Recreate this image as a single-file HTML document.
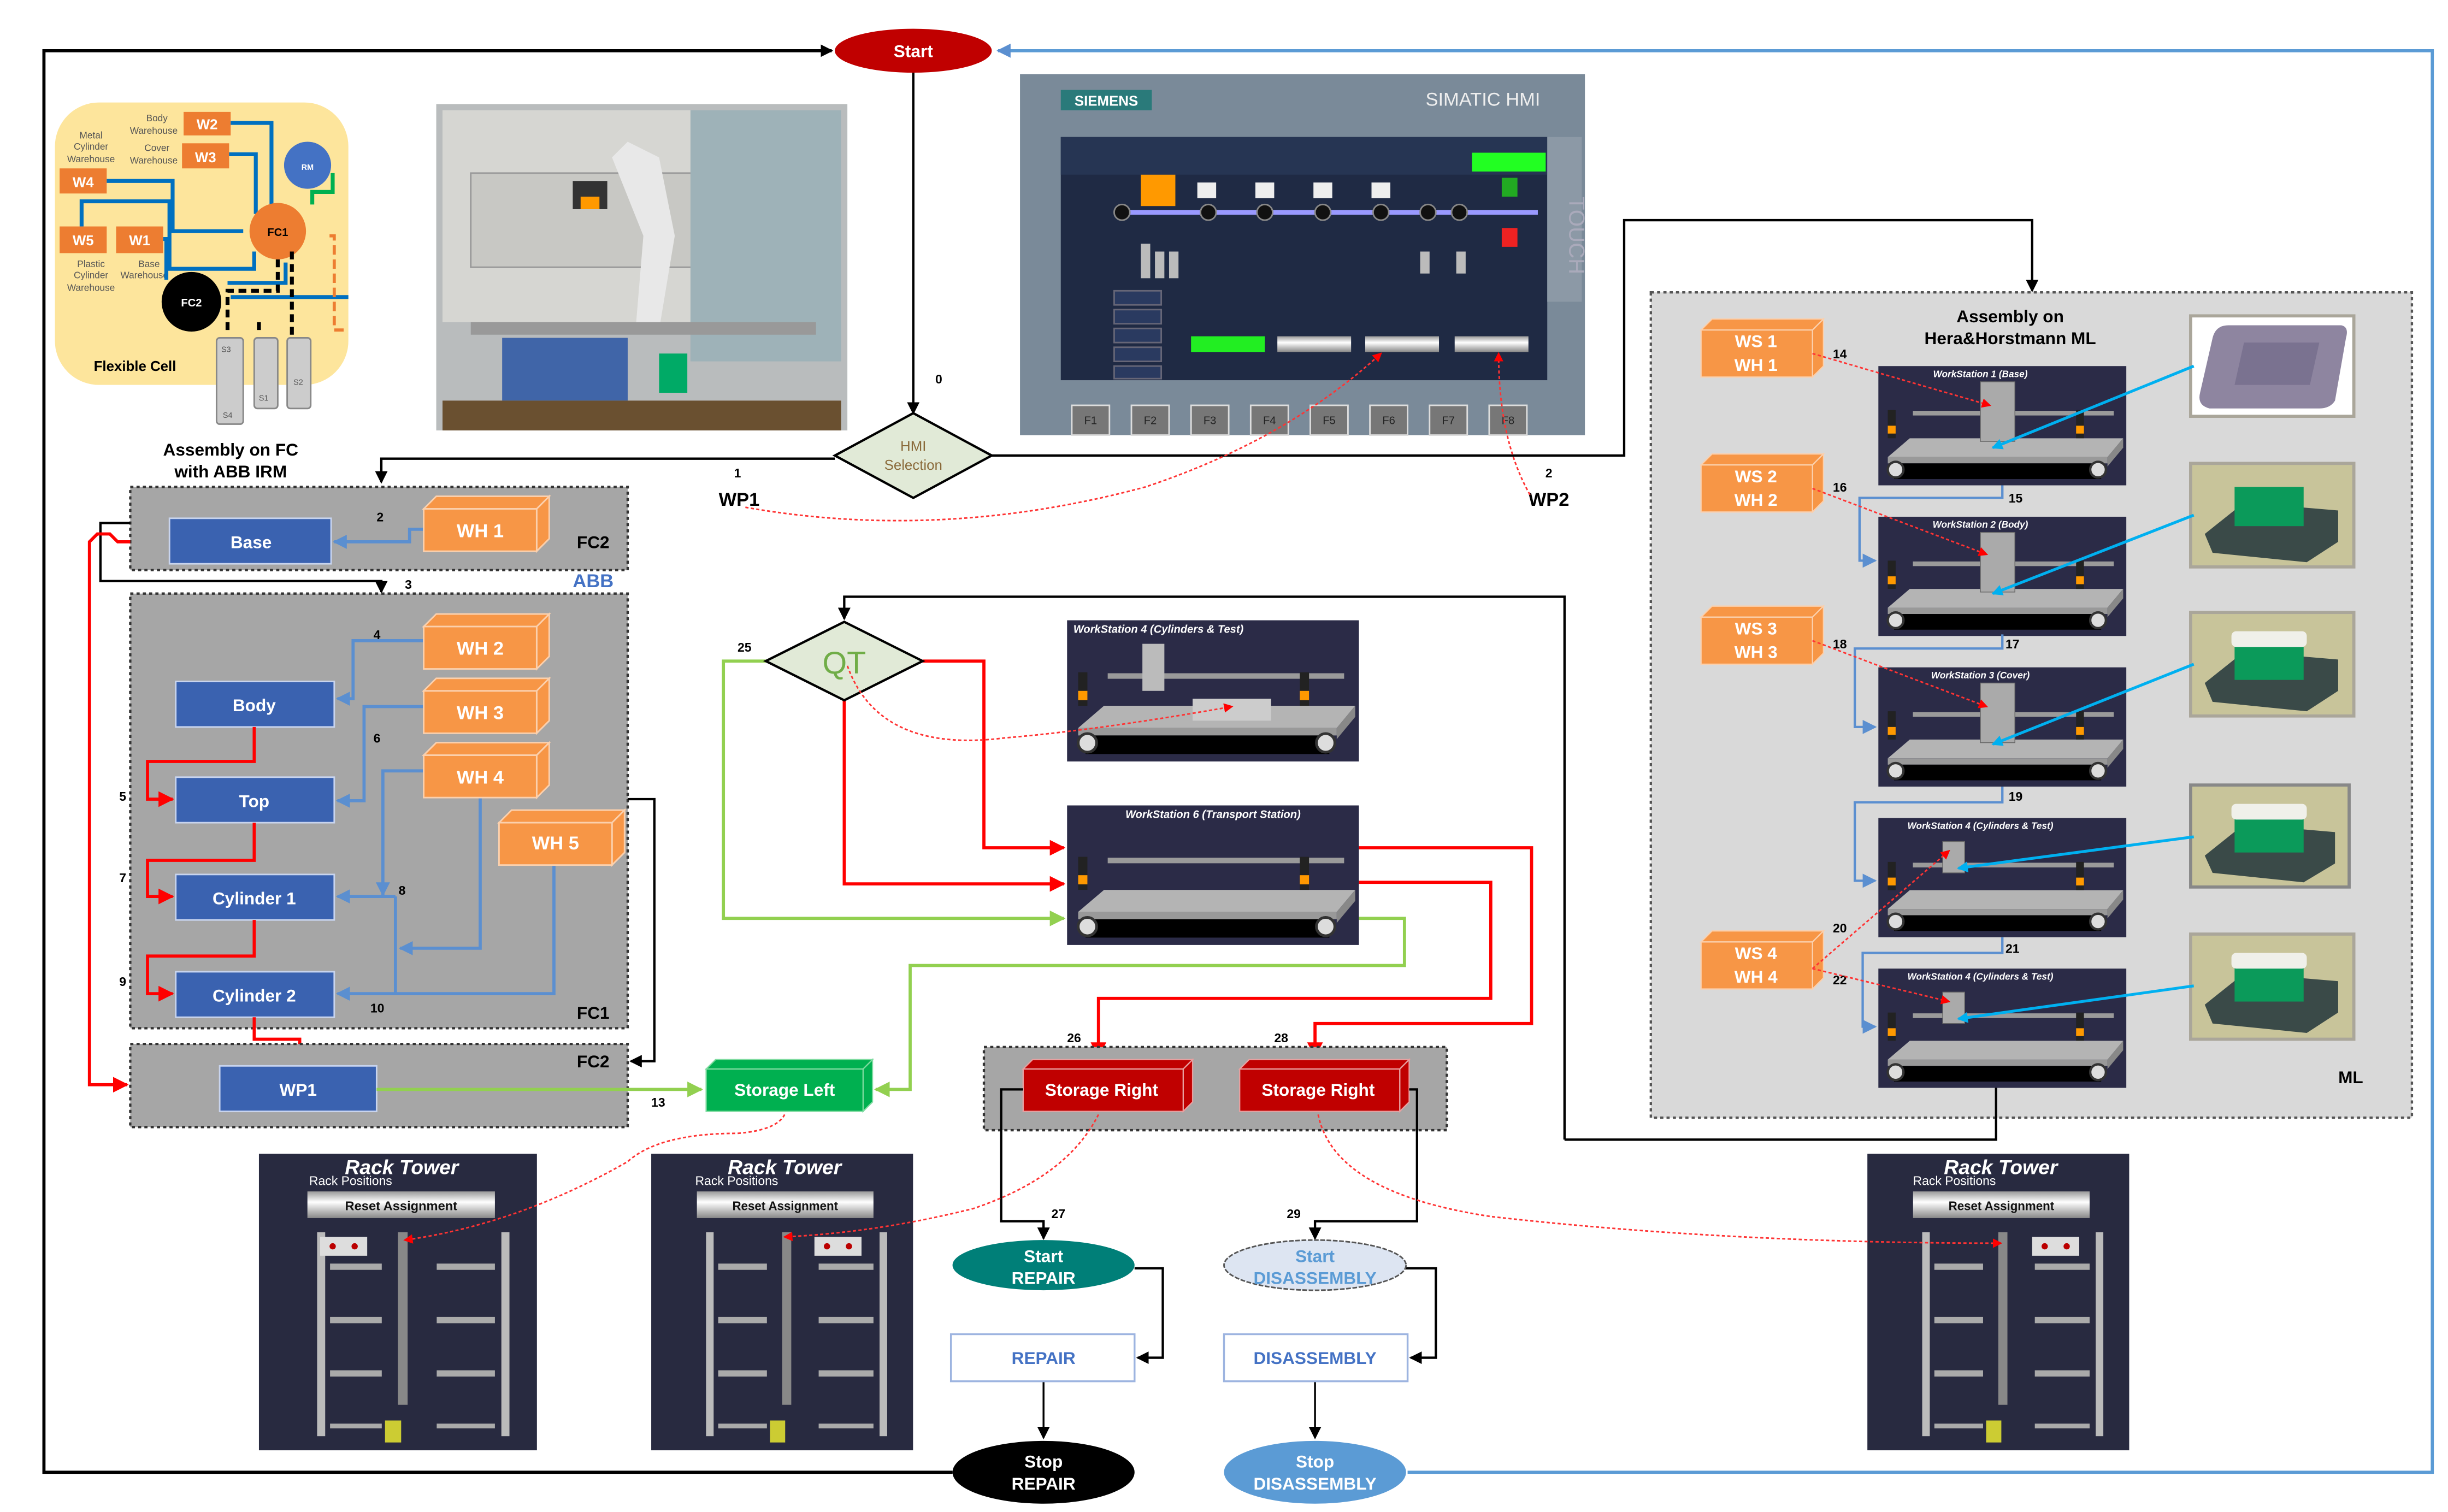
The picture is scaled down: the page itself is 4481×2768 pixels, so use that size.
<!DOCTYPE html>
<html><head><meta charset="utf-8">
<style>
html,body{margin:0;padding:0;background:#fff;}
svg{display:block;}
text{font-family:"Liberation Sans",sans-serif;}
</style></head>
<body>
<svg width="4481" height="2768" viewBox="0 0 1560 963" xmlns="http://www.w3.org/2000/svg">
<defs>
<marker id="ak" markerWidth="8" markerHeight="8" refX="7" refY="4" orient="auto" markerUnits="userSpaceOnUse"><path d="M0,0 L8,4 L0,8 z" fill="#000"/></marker>
<marker id="ar" markerWidth="10" markerHeight="10" refX="9" refY="5" orient="auto" markerUnits="userSpaceOnUse"><path d="M0,0 L10,5 L0,10 z" fill="#ff0000"/></marker>
<marker id="ab" markerWidth="9" markerHeight="9" refX="8" refY="4.5" orient="auto" markerUnits="userSpaceOnUse"><path d="M0,0 L9,4.5 L0,9 z" fill="#5b8fd0"/></marker>
<marker id="ag" markerWidth="10" markerHeight="10" refX="9" refY="5" orient="auto" markerUnits="userSpaceOnUse"><path d="M0,0 L10,5 L0,10 z" fill="#92d050"/></marker>
<marker id="arr" markerWidth="6" markerHeight="6" refX="5" refY="3" orient="auto" markerUnits="userSpaceOnUse"><path d="M0,0 L6,3 L0,6 z" fill="#ff0000"/></marker>
<marker id="ac" markerWidth="7" markerHeight="7" refX="6" refY="3.5" orient="auto" markerUnits="userSpaceOnUse"><path d="M0,0 L7,3.5 L0,7 z" fill="#00b0f0"/></marker>
<linearGradient id="btn" x1="0" y1="0" x2="0" y2="1"><stop offset="0" stop-color="#999"/><stop offset="0.4" stop-color="#fff"/><stop offset="1" stop-color="#888"/></linearGradient>
<g id="ws">
<rect x="0" y="0" width="158" height="76" fill="#2b2b47"/>
<line x1="22" y1="30" x2="150" y2="30" stroke="#9a9a9a" stroke-width="3"/>
<polygon points="6,58 146,58 156,46 20,46" fill="#b4b4b4"/>
<polygon points="146,58 156,46 156,52 146,64" fill="#888"/>
<rect x="6" y="58" width="140" height="4" fill="#999"/>
<rect x="10" y="62" width="132" height="10" fill="#000"/>
<circle cx="11" cy="66" r="5" fill="#ddd" stroke="#333" stroke-width="1.5"/>
<circle cx="140" cy="66" r="5" fill="#ddd" stroke="#333" stroke-width="1.5"/>
<rect x="6" y="28" width="5" height="18" fill="#222"/><rect x="6" y="38" width="5" height="5" fill="#f90"/>
<rect x="126" y="28" width="5" height="18" fill="#222"/><rect x="126" y="38" width="5" height="5" fill="#f90"/>
</g>
<g id="rack">
<rect x="0" y="0" width="172" height="189" fill="#282a40"/>
<rect x="30" y="24" width="116" height="17" fill="url(#btn)"/>
<text x="88" y="36" font-size="8" text-anchor="middle" fill="#111" font-weight="bold">Reset Assignment</text>
<rect x="36" y="50" width="5" height="130" fill="#bbb"/><rect x="150" y="50" width="5" height="130" fill="#bbb"/>
<rect x="86" y="50" width="6" height="110" fill="#888"/>
<g fill="#aaa"><rect x="44" y="70" width="32" height="4"/><rect x="44" y="104" width="32" height="4"/><rect x="44" y="138" width="32" height="4"/><rect x="44" y="172" width="32" height="3"/>
<rect x="110" y="70" width="36" height="4"/><rect x="110" y="104" width="36" height="4"/><rect x="110" y="138" width="36" height="4"/><rect x="110" y="172" width="36" height="3"/></g>
<rect x="78" y="170" width="10" height="14" fill="#cc3"/>
</g>
</defs>

<!-- outer black loop -->
<polyline points="607,938 28,938 28,32 530,32" fill="none" stroke="#000" stroke-width="2" marker-end="url(#ak)"/>
<!-- outer blue loop -->
<polyline points="897,938 1550,938 1550,32 636,32" fill="none" stroke="#5b9bd5" stroke-width="2" marker-end="url(#ab)"/>

<!-- Start -->
<ellipse cx="582" cy="32" rx="50" ry="14" fill="#c00000"/>
<text x="582" y="36" font-size="11" font-weight="bold" fill="#fff" text-anchor="middle">Start</text>
<line x1="582" y1="46" x2="582" y2="263" stroke="#000" stroke-width="1.5" marker-end="url(#ak)"/>
<text x="596" y="244" font-size="8" font-weight="bold">0</text>

<!-- Flexible cell -->
<rect x="35" y="65" width="187" height="180" rx="28" fill="#fde59c"/>
<g font-size="6" fill="#555" text-anchor="middle">
<text x="100" y="77">Body</text><text x="98" y="85">Warehouse</text>
<text x="58" y="88">Metal</text><text x="58" y="95">Cylinder</text><text x="58" y="103">Warehouse</text>
<text x="100" y="96">Cover</text><text x="98" y="104">Warehouse</text>
<text x="58" y="170">Plastic</text><text x="58" y="177">Cylinder</text><text x="58" y="185">Warehouse</text>
<text x="95" y="170">Base</text><text x="92" y="177">Warehouse</text></g>
<g fill="#ed7d31"><rect x="117" y="71" width="30" height="15"/><rect x="116" y="91" width="30" height="16"/><rect x="38" y="107" width="30" height="16"/><rect x="38" y="144" width="30" height="17"/><rect x="74" y="144" width="30" height="17"/></g>
<g font-size="9" font-weight="bold" fill="#fff" text-anchor="middle"><text x="132" y="82">W2</text><text x="131" y="103">W3</text><text x="53" y="119">W4</text><text x="53" y="156">W5</text><text x="89" y="156">W1</text></g>
<g fill="none" stroke="#0070c0" stroke-width="2.5">
<polyline points="147,78 173,78 173,133"/><polyline points="146,98 163,98 163,136"/><polyline points="68,115 110,115 110,147 155,147"/>
<polyline points="52,144 52,128 108,128 108,171 162,171 162,160"/><polyline points="104,152 106,152 106,178"/>
<polyline points="182,167 182,180 145,180"/><polyline points="147,189 222,189"/></g>
<circle cx="196" cy="105" r="15" fill="#4472c4"/><text x="196" y="108" font-size="5" fill="#fff" text-anchor="middle" font-weight="bold">RM</text>
<polyline points="212,110 212,122 199,122 199,130" fill="none" stroke="#00b050" stroke-width="2.5"/>
<circle cx="177" cy="147" r="18" fill="#ed7d31"/><text x="177" y="150" font-size="7" font-weight="bold" text-anchor="middle">FC1</text>
<circle cx="122" cy="192" r="19" fill="#000"/><text x="122" y="195" font-size="7" font-weight="bold" fill="#fff" text-anchor="middle">FC2</text>
<g fill="none" stroke="#000" stroke-width="2.5" stroke-dasharray="5,3"><polyline points="177,165 177,185 145,185 145,210"/><polyline points="186,160 186,215"/><polyline points="165,205 165,212"/></g>
<polyline points="210,150 213,150 213,210 220,210" fill="none" stroke="#ed7d31" stroke-width="2" stroke-dasharray="6,3"/>
<g fill="#ccc" stroke="#888" stroke-width="1"><rect x="138" y="215" width="17" height="55" rx="2"/><rect x="162" y="215" width="15" height="45" rx="2"/><rect x="183" y="215" width="15" height="45" rx="2"/></g>
<g font-size="5" fill="#555"><text x="141" y="224">S3</text><text x="142" y="266">S4</text><text x="165" y="255">S1</text><text x="187" y="245">S2</text></g>
<text x="86" y="236" font-size="9" font-weight="bold" text-anchor="middle">Flexible Cell</text>
<text x="147" y="290" font-size="11" font-weight="bold" text-anchor="middle">Assembly on FC</text>
<text x="147" y="304" font-size="11" font-weight="bold" text-anchor="middle">with ABB IRM</text>

<!-- Photo -->
<rect x="278" y="66" width="262" height="208" fill="#b9bcbd"/>
<rect x="282" y="70" width="254" height="135" fill="#d6d6d2"/>
<rect x="300" y="110" width="220" height="60" fill="#c8c8c4" stroke="#999"/>
<rect x="440" y="70" width="96" height="160" fill="#9eb2b8"/>
<path d="M390,100 L400,90 L420,100 L430,150 L420,210 L405,210 L410,150 Z" fill="#e8e8e8"/>
<rect x="365" y="115" width="22" height="18" fill="#333"/>
<rect x="370" y="125" width="12" height="8" fill="#f90"/>
<rect x="300" y="205" width="220" height="8" fill="#999"/>
<rect x="320" y="215" width="80" height="40" fill="#4065a8"/>
<rect x="420" y="225" width="18" height="25" fill="#0a6"/>
<rect x="282" y="255" width="254" height="19" fill="#6a5030"/>

<!-- HMI -->
<rect x="650" y="47" width="360" height="230" fill="#7a8a99"/>
<rect x="676" y="57" width="58" height="13" fill="#2a7a7a"/>
<text x="705" y="67" font-size="9" font-weight="bold" fill="#fff" text-anchor="middle">SIEMENS</text>
<text x="945" y="67" font-size="12" fill="#eee" text-anchor="middle">SIMATIC HMI</text>
<rect x="676" y="87" width="310" height="155" fill="#1f2a44"/>
<rect x="676" y="87" width="310" height="24" fill="#263553"/>
<rect x="938" y="97" width="47" height="12" fill="#22ff22"/>
<rect x="986" y="87" width="22" height="105" fill="#8c99a6"/>
<text x="1000" y="125" font-size="14" fill="#aab" transform="rotate(90 1000 125)">TOUCH</text>
<rect x="727" y="111" width="22" height="20" fill="#f90"/>
<line x1="710" y1="135" x2="980" y2="135" stroke="#9999ff" stroke-width="3"/>
<g fill="#111" stroke="#888"><circle cx="715" cy="135" r="5"/><circle cx="770" cy="135" r="5"/><circle cx="806" cy="135" r="5"/><circle cx="843" cy="135" r="5"/><circle cx="880" cy="135" r="5"/><circle cx="910" cy="135" r="5"/><circle cx="930" cy="135" r="5"/></g>
<g fill="#eee"><rect x="763" y="116" width="12" height="10"/><rect x="800" y="116" width="12" height="10"/><rect x="837" y="116" width="12" height="10"/><rect x="874" y="116" width="12" height="10"/></g>
<rect x="957" y="113" width="10" height="12" fill="#2a2"/><rect x="957" y="145" width="10" height="12" fill="#e22"/>
<g fill="#bbb"><rect x="727" y="155" width="6" height="22"/><rect x="736" y="160" width="6" height="17"/><rect x="745" y="160" width="6" height="17"/><rect x="905" y="160" width="6" height="14"/><rect x="928" y="160" width="6" height="14"/></g>
<g fill="#2a3a60" stroke="#667"><rect x="710" y="185" width="30" height="9"/><rect x="710" y="197" width="30" height="9"/><rect x="710" y="209" width="30" height="9"/><rect x="710" y="221" width="30" height="9"/><rect x="710" y="233" width="30" height="8"/></g>
<rect x="759" y="214" width="47" height="10" fill="#22ee22"/>
<g fill="url(#btn)"><rect x="814" y="214" width="47" height="10"/><rect x="870" y="214" width="47" height="10"/><rect x="927" y="214" width="47" height="10"/></g>
<g fill="#777" stroke="#ddd" stroke-width="1"><rect x="683" y="258" width="24" height="19"/><rect x="721" y="258" width="24" height="19"/><rect x="759" y="258" width="24" height="19"/><rect x="797" y="258" width="24" height="19"/><rect x="835" y="258" width="24" height="19"/><rect x="873" y="258" width="24" height="19"/><rect x="911" y="258" width="24" height="19"/><rect x="949" y="258" width="24" height="19"/></g>
<g font-size="7" fill="#222" text-anchor="middle"><text x="695" y="270">F1</text><text x="733" y="270">F2</text><text x="771" y="270">F3</text><text x="809" y="270">F4</text><text x="847" y="270">F5</text><text x="885" y="270">F6</text><text x="923" y="270">F7</text><text x="961" y="270">F8</text></g>

<!-- HMI selection diamond -->
<polyline points="532,292 243,292 243,307" fill="none" stroke="#000" stroke-width="1.5" marker-end="url(#ak)"/>
<polyline points="632,290 1035,290 1035,140 1295,140 1295,185" fill="none" stroke="#000" stroke-width="1.5" marker-end="url(#ak)"/>
<polygon points="582,263 632,290 582,317 532,290" fill="#e1ead7" stroke="#000" stroke-width="1.5"/>
<text x="582" y="287" font-size="9" fill="#8a6a3a" text-anchor="middle">HMI</text>
<text x="582" y="299" font-size="9" fill="#8a6a3a" text-anchor="middle">Selection</text>
<text x="470" y="304" font-size="8" font-weight="bold" text-anchor="middle">1</text>
<text x="471" y="322" font-size="12" font-weight="bold" text-anchor="middle">WP1</text>
<text x="987" y="304" font-size="8" font-weight="bold" text-anchor="middle">2</text>
<text x="987" y="322" font-size="12" font-weight="bold" text-anchor="middle">WP2</text>
<path d="M475,323 Q600,345 730,310 Q820,280 880,225" fill="none" stroke="#ff3333" stroke-width="1" stroke-dasharray="2,1.5" marker-end="url(#arr)"/>
<path d="M975,315 Q955,280 955,225" fill="none" stroke="#ff3333" stroke-width="1" stroke-dasharray="2,1.5" marker-end="url(#arr)"/>

<!-- FC2 top -->
<rect x="83" y="310" width="317" height="53" fill="#a6a6a6" stroke="#333" stroke-width="1.5" stroke-dasharray="2,2"/>
<rect x="108" y="330" width="103" height="29" fill="#3a62b0" stroke="#c8d4ee" stroke-width="1"/>
<text x="160" y="349" font-size="11" font-weight="bold" fill="#fff" text-anchor="middle">Base</text>
<text x="240" y="332" font-size="8" font-weight="bold">2</text>
<text x="378" y="349" font-size="11" font-weight="bold" text-anchor="middle">FC2</text>
<polyline points="270,337 261,337 261,345 213,345" fill="none" stroke="#5b8fd0" stroke-width="2" marker-end="url(#ab)"/>
<polyline points="83,333 64,333 64,370 243,370 243,377" fill="none" stroke="#000" stroke-width="1.5" marker-end="url(#ak)"/>
<text x="258" y="375" font-size="8" font-weight="bold">3</text>
<text x="378" y="374" font-size="12" font-weight="bold" fill="#4472c4" text-anchor="middle">ABB</text>

<!-- FC1 -->
<rect x="83" y="378" width="317" height="277" fill="#a6a6a6" stroke="#333" stroke-width="1.5" stroke-dasharray="2,2"/>
<g fill="#3a62b0" stroke="#c8d4ee" stroke-width="1">
<rect x="112" y="434" width="101" height="29"/><rect x="112" y="495" width="101" height="29"/><rect x="112" y="557" width="101" height="29"/><rect x="112" y="619" width="101" height="29"/></g>
<g font-size="11" font-weight="bold" fill="#fff" text-anchor="middle"><text x="162" y="453">Body</text><text x="162" y="514">Top</text><text x="162" y="576">Cylinder 1</text><text x="162" y="638">Cylinder 2</text></g>
<g fill="none" stroke="#5b8fd0" stroke-width="2">
<polyline points="270,408 225,408 225,445 215,445" marker-end="url(#ab)"/>
<polyline points="270,450 232,450 232,510 215,510" marker-end="url(#ab)"/>
<polyline points="270,491 244,491 244,570" marker-end="url(#ab)"/>
<polyline points="252,571 215,571" marker-end="url(#ab)"/>
<polyline points="306,508 306,604 255,604" marker-end="url(#ab)"/>
<polyline points="252,571 252,633"/>
<polyline points="353,551 353,633 215,633" marker-end="url(#ab)"/>
</g>
<g fill="none" stroke="#ff0000" stroke-width="2">
<polyline points="162,463 162,485 94,485 94,509 110,509" marker-end="url(#ar)"/>
<polyline points="162,524 162,548 94,548 94,571 110,571" marker-end="url(#ar)"/>
<polyline points="162,586 162,609 94,609 94,633 110,633" marker-end="url(#ar)"/>
<polyline points="162,648 162,662 191,662 191,677" marker-end="url(#ar)"/>
<polyline points="83,345 75,345 70,340 62,340 57,345 57,691 81,691" marker-end="url(#ar)"/>
</g>
<g font-size="8" font-weight="bold"><text x="238" y="407">4</text><text x="238" y="473">6</text><text x="76" y="510">5</text><text x="76" y="562">7</text><text x="254" y="570">8</text><text x="76" y="628">9</text><text x="236" y="645">10</text><text x="210" y="675">12</text><text x="415" y="705">13</text></g>
<text x="378" y="649" font-size="11" font-weight="bold" text-anchor="middle">FC1</text>
<polyline points="400,509 417,509 417,676 402,676" fill="none" stroke="#000" stroke-width="1.5" marker-end="url(#ak)"/>

<!-- Orange 3D boxes -->
<g id="ob">
<g fill="#f79646" stroke="#fbd0ad" stroke-width="1">
<polygon points="270,324 278,316 350,316 342,324"/><polygon points="342,324 350,316 350,343 342,351"/><rect x="270" y="324" width="72" height="27"/></g></g>
<use href="#ob" transform="translate(0,75)"/><use href="#ob" transform="translate(0,116)"/><use href="#ob" transform="translate(0,157)"/><use href="#ob" transform="translate(48,200)"/>
<g font-size="12" font-weight="bold" fill="#fff" text-anchor="middle"><text x="306" y="342">WH 1</text><text x="306" y="417">WH 2</text><text x="306" y="458">WH 3</text><text x="306" y="499">WH 4</text><text x="354" y="541">WH 5</text></g>

<!-- FC2 bottom -->
<rect x="83" y="665" width="317" height="53" fill="#a6a6a6" stroke="#333" stroke-width="1.5" stroke-dasharray="2,2"/>
<text x="378" y="680" font-size="11" font-weight="bold" text-anchor="middle">FC2</text>
<rect x="140" y="679" width="100" height="29" fill="#3a62b0" stroke="#c8d4ee" stroke-width="1"/>
<text x="190" y="698" font-size="11" font-weight="bold" fill="#fff" text-anchor="middle">WP1</text>
<line x1="240" y1="694" x2="447" y2="694" stroke="#92d050" stroke-width="2" marker-end="url(#ag)"/>

<!-- Storage Left -->
<g fill="#00b050" stroke="#7fdba0" stroke-width="0.8"><polygon points="450,681 456,675 556,675 550,681"/><polygon points="550,681 556,675 556,702 550,708"/><rect x="450" y="681" width="100" height="27"/></g>
<text x="500" y="698" font-size="11" font-weight="bold" fill="#fff" text-anchor="middle">Storage Left</text>

<!-- QT -->
<polyline points="997,726 997,380 538,380 538,394" fill="none" stroke="#000" stroke-width="1.5" marker-end="url(#ak)"/>
<polyline points="488,421 461,421 461,585 678,585" fill="none" stroke="#92d050" stroke-width="2" marker-end="url(#ag)"/>
<polyline points="588,421 627,421 627,540 678,540" fill="none" stroke="#ff0000" stroke-width="2" marker-end="url(#ar)"/>
<polyline points="538,446 538,563 678,563" fill="none" stroke="#ff0000" stroke-width="2" marker-end="url(#ar)"/>
<polygon points="538,396 588,421 538,446 488,421" fill="#e1ead7" stroke="#000" stroke-width="1.5"/>
<text x="538" y="429" font-size="20" fill="#70ad47" text-anchor="middle">QT</text>
<text x="470" y="415" font-size="8" font-weight="bold">25</text>

<!-- WS4 mid & WS6 -->
<use href="#ws" transform="translate(680,395) scale(1.177,1.184)"/>
<text x="684" y="403" font-size="7" font-weight="bold" font-style="italic" fill="#fff">WorkStation 4 (Cylinders &amp; Test)</text>
<rect x="728" y="410" width="14" height="30" fill="#bbb"/><rect x="760" y="445" width="50" height="14" fill="#ccc"/>
<use href="#ws" transform="translate(680,513) scale(1.177,1.17)"/>
<text x="773" y="521" font-size="7" font-weight="bold" font-style="italic" fill="#fff" text-anchor="middle">WorkStation 6 (Transport Station)</text>
<path d="M540,424 Q560,480 640,470 Q700,465 785,450" fill="none" stroke="#ff3333" stroke-width="1" stroke-dasharray="2,1.5" marker-end="url(#arr)"/>

<!-- WS6 outputs -->
<polyline points="866,585 895,585 895,615 580,615 580,694 558,694" fill="none" stroke="#92d050" stroke-width="2" marker-end="url(#ag)"/>
<polyline points="866,562 950,562 950,636 700,636 700,673" fill="none" stroke="#ff0000" stroke-width="2" marker-end="url(#ar)"/>
<polyline points="866,540 976,540 976,652 838,652 838,673" fill="none" stroke="#ff0000" stroke-width="2" marker-end="url(#ar)"/>

<!-- Storage Right group -->
<rect x="627" y="667" width="295" height="53" fill="#a6a6a6" stroke="#333" stroke-width="1.5" stroke-dasharray="2,2"/>
<g fill="#c00000" stroke="#e8a0a0" stroke-width="0.8">
<polygon points="652,681 658,675 760,675 754,681"/><polygon points="754,681 760,675 760,702 754,708"/><rect x="652" y="681" width="102" height="27"/>
<polygon points="790,681 796,675 898,675 892,681"/><polygon points="892,681 898,675 898,702 892,708"/><rect x="790" y="681" width="102" height="27"/></g>
<g font-size="11" font-weight="bold" fill="#fff" text-anchor="middle"><text x="702" y="698">Storage Right</text><text x="840" y="698">Storage Right</text></g>
<g font-size="8" font-weight="bold"><text x="680" y="664">26</text><text x="812" y="664">28</text><text x="670" y="776">27</text><text x="820" y="776">29</text></g>

<polyline points="652,694 638,694 638,778 665,778 665,789" fill="none" stroke="#000" stroke-width="1.5" marker-end="url(#ak)"/>
<polyline points="898,694 903,694 903,778 838,778 838,789" fill="none" stroke="#000" stroke-width="1.5" marker-end="url(#ak)"/>

<!-- Repair/Disassembly -->
<polyline points="723,808 741,808 741,865 725,865" fill="none" stroke="#000" stroke-width="1.5" marker-end="url(#ak)"/>
<polyline points="896,808 915,808 915,865 899,865" fill="none" stroke="#000" stroke-width="1.5" marker-end="url(#ak)"/>
<line x1="665" y1="880" x2="665" y2="916" stroke="#000" stroke-width="1.2" marker-end="url(#ak)"/>
<line x1="838" y1="880" x2="838" y2="916" stroke="#000" stroke-width="1.2" marker-end="url(#ak)"/>
<ellipse cx="665" cy="806" rx="58" ry="16" fill="#007f78"/>
<text x="665" y="804" font-size="11" font-weight="bold" fill="#fff" text-anchor="middle">Start</text>
<text x="665" y="818" font-size="11" font-weight="bold" fill="#fff" text-anchor="middle">REPAIR</text>
<ellipse cx="838" cy="806" rx="58" ry="16" fill="#dde5f2" stroke="#555" stroke-width="1" stroke-dasharray="3,1"/>
<text x="838" y="804" font-size="11" font-weight="bold" fill="#5b9bd5" text-anchor="middle">Start</text>
<text x="838" y="818" font-size="11" font-weight="bold" fill="#5b9bd5" text-anchor="middle">DISASSEMBLY</text>
<rect x="606" y="850" width="117" height="30" fill="#fff" stroke="#9db4e0" stroke-width="1.2"/>
<text x="665" y="869" font-size="11" font-weight="bold" fill="#4472c4" text-anchor="middle">REPAIR</text>
<rect x="780" y="850" width="117" height="30" fill="#fff" stroke="#9db4e0" stroke-width="1.2"/>
<text x="838" y="869" font-size="11" font-weight="bold" fill="#4472c4" text-anchor="middle">DISASSEMBLY</text>
<ellipse cx="665" cy="938" rx="58" ry="20" fill="#000"/>
<text x="665" y="935" font-size="11" font-weight="bold" fill="#fff" text-anchor="middle">Stop</text>
<text x="665" y="949" font-size="11" font-weight="bold" fill="#fff" text-anchor="middle">REPAIR</text>
<ellipse cx="838" cy="938" rx="58" ry="20" fill="#5b9bd5"/>
<text x="838" y="935" font-size="11" font-weight="bold" fill="#fff" text-anchor="middle">Stop</text>
<text x="838" y="949" font-size="11" font-weight="bold" fill="#fff" text-anchor="middle">DISASSEMBLY</text>

<!-- Rack towers -->
<use href="#rack" transform="translate(165,735) scale(1.03,1)"/>
<use href="#rack" transform="translate(415,735) scale(0.97,1)"/>
<use href="#rack" transform="translate(1190,735) scale(0.97,1)"/>
<g font-weight="bold" font-style="italic" fill="#fff" text-anchor="middle" font-size="13">
<text x="256" y="748">Rack Tower</text><text x="500" y="748">Rack Tower</text><text x="1275" y="748">Rack Tower</text></g>
<g font-size="8" fill="#fff"><text x="197" y="755">Rack Positions</text><text x="443" y="755">Rack Positions</text><text x="1219" y="755">Rack Positions</text></g>
<g fill="#ddd"><rect x="204" y="788" width="30" height="12"/><rect x="519" y="788" width="30" height="12"/><rect x="1295" y="788" width="30" height="12"/></g>
<g fill="#b00"><circle cx="212" cy="794" r="2"/><circle cx="226" cy="794" r="2"/><circle cx="527" cy="794" r="2"/><circle cx="541" cy="794" r="2"/><circle cx="1303" cy="794" r="2"/><circle cx="1317" cy="794" r="2"/></g>
<path d="M500,710 Q495,720 470,722 Q420,722 400,740 Q330,780 258,790" fill="none" stroke="#ff3333" stroke-width="1" stroke-dasharray="2,1.5" marker-end="url(#arr)"/>
<path d="M700,710 Q680,750 620,770 Q560,785 500,788" fill="none" stroke="#ff3333" stroke-width="1" stroke-dasharray="2,1.5" marker-end="url(#arr)"/>
<path d="M840,710 Q850,760 950,775 Q1100,792 1275,792" fill="none" stroke="#ff3333" stroke-width="1" stroke-dasharray="2,1.5" marker-end="url(#arr)"/>

<!-- ML -->
<rect x="1052" y="186" width="485" height="526" fill="#d9d9d9" stroke="#555" stroke-width="1.5" stroke-dasharray="2,2"/>
<polyline points="1272,693 1272,726 997,726" fill="none" stroke="#000" stroke-width="1.5"/>
<text x="1281" y="205" font-size="11" font-weight="bold" text-anchor="middle">Assembly on</text>
<text x="1281" y="219" font-size="11" font-weight="bold" text-anchor="middle">Hera&amp;Horstmann ML</text>
<text x="1498" y="690" font-size="11" font-weight="bold" text-anchor="middle">ML</text>
<use href="#ws" transform="translate(1197,233)"/>
<use href="#ws" transform="translate(1197,329)"/>
<use href="#ws" transform="translate(1197,425)"/>
<use href="#ws" transform="translate(1197,521)"/>
<use href="#ws" transform="translate(1197,617)"/>
<g font-size="6" font-weight="bold" font-style="italic" fill="#fff" text-anchor="middle">
<text x="1262" y="240">WorkStation 1 (Base)</text><text x="1262" y="336">WorkStation 2 (Body)</text><text x="1262" y="432">WorkStation 3 (Cover)</text><text x="1262" y="528">WorkStation 4 (Cylinders &amp; Test)</text><text x="1262" y="624">WorkStation 4 (Cylinders &amp; Test)</text></g>
<g fill="#aaa" stroke="#666" stroke-width="0.5"><rect x="1262" y="243" width="22" height="38"/><rect x="1262" y="339" width="22" height="38"/><rect x="1262" y="435" width="22" height="38"/><rect x="1238" y="536" width="14" height="20"/><rect x="1238" y="632" width="14" height="20"/></g>
<g fill="none" stroke="#5b8fd0" stroke-width="1.5">
<polyline points="1276,309 1276,317 1185,317 1185,357 1195,357" marker-end="url(#ab)"/>
<polyline points="1276,404 1276,413 1182,413 1182,463 1195,463" marker-end="url(#ab)"/>
<polyline points="1276,501 1276,511 1182,511 1182,561 1195,561" marker-end="url(#ab)"/>
<polyline points="1276,597 1276,607 1187,607 1187,654 1195,654" marker-end="url(#ab)"/></g>
<g font-size="8" font-weight="bold"><text x="1168" y="228">14</text><text x="1280" y="320">15</text><text x="1168" y="313">16</text><text x="1278" y="413">17</text><text x="1168" y="413">18</text><text x="1280" y="510">19</text><text x="1168" y="594">20</text><text x="1278" y="607">21</text><text x="1168" y="627">22</text></g>
<g id="mo"><g fill="#f79646" stroke="#fbd0ad" stroke-width="0.8"><polygon points="1084,210 1091,203 1162,203 1155,210"/><polygon points="1155,210 1162,203 1162,233 1155,240"/><rect x="1084" y="210" width="71" height="30"/></g></g>
<use href="#mo" transform="translate(0,86)"/><use href="#mo" transform="translate(0,183)"/><use href="#mo" transform="translate(0,390)"/>
<g font-size="11" font-weight="bold" fill="#fff" text-anchor="middle">
<text x="1119" y="221">WS 1</text><text x="1119" y="236">WH 1</text>
<text x="1119" y="307">WS 2</text><text x="1119" y="322">WH 2</text>
<text x="1119" y="404">WS 3</text><text x="1119" y="419">WH 3</text>
<text x="1119" y="611">WS 4</text><text x="1119" y="626">WH 4</text></g>
<g fill="none" stroke="#ff3333" stroke-width="1" stroke-dasharray="2,1.5">
<line x1="1155" y1="225" x2="1268" y2="258" marker-end="url(#arr)"/>
<line x1="1155" y1="311" x2="1266" y2="353" marker-end="url(#arr)"/>
<line x1="1155" y1="408" x2="1266" y2="450" marker-end="url(#arr)"/>
<line x1="1155" y1="617" x2="1242" y2="542" marker-end="url(#arr)"/>
<line x1="1155" y1="617" x2="1242" y2="638" marker-end="url(#arr)"/></g>

<!-- parts photos -->
<rect x="1396" y="201" width="104" height="64" fill="#fff" stroke="#aaa69a" stroke-width="2"/>
<path d="M1410,215 Q1412,207 1420,207 L1492,207 Q1497,208 1495,215 L1488,255 Q1485,260 1478,260 L1408,260 Q1400,258 1402,250 Z" fill="#8e85a0"/>
<polygon points="1430,218 1478,218 1472,245 1424,245" fill="#7a7290"/>
<g>
<rect x="1396" y="295" width="104" height="66" fill="#c8c49a" stroke="#aaa69a" stroke-width="2"/>
<rect x="1396" y="390" width="104" height="66" fill="#c8c49a" stroke="#aaa69a" stroke-width="2"/>
<rect x="1396" y="500" width="101" height="65" fill="#c8c49a" stroke="#888" stroke-width="2"/>
<rect x="1396" y="595" width="104" height="67" fill="#c8c49a" stroke="#aaa69a" stroke-width="2"/>
</g>
<g fill="#3a4a48"><polygon points="1405,340 1430,320 1490,325 1490,345 1470,358 1410,352"/><polygon points="1405,435 1430,415 1490,420 1490,440 1470,453 1410,447"/><polygon points="1405,545 1430,525 1488,530 1488,550 1468,562 1410,556"/><polygon points="1405,640 1430,620 1490,625 1490,645 1470,658 1410,652"/></g>
<g fill="#0b9a5a"><rect x="1424" y="310" width="44" height="25"/><rect x="1424" y="408" width="44" height="25"/><rect x="1424" y="518" width="44" height="25"/><rect x="1424" y="613" width="44" height="25"/></g>
<g fill="#f0f0ea"><rect x="1422" y="402" width="48" height="10" rx="3"/><rect x="1422" y="512" width="48" height="10" rx="3"/><rect x="1422" y="607" width="48" height="10" rx="3"/></g>
<g fill="none" stroke="#00b0f0" stroke-width="1.8">
<line x1="1398" y1="233" x2="1270" y2="285" marker-end="url(#ac)"/>
<line x1="1398" y1="328" x2="1270" y2="378" marker-end="url(#ac)"/>
<line x1="1398" y1="423" x2="1270" y2="474" marker-end="url(#ac)"/>
<line x1="1398" y1="533" x2="1248" y2="553" marker-end="url(#ac)"/>
<line x1="1398" y1="628" x2="1248" y2="649" marker-end="url(#ac)"/></g>
</svg>
</body></html>
